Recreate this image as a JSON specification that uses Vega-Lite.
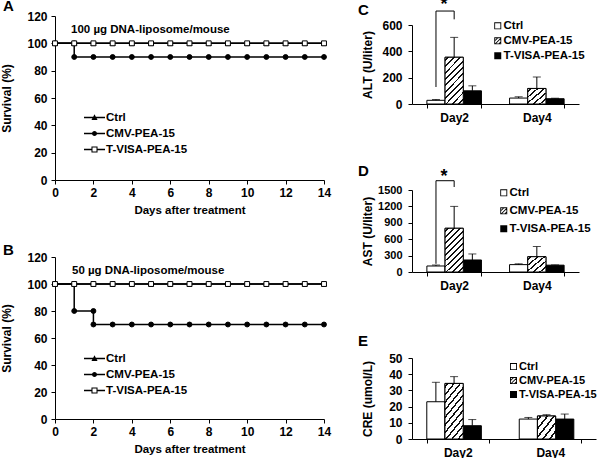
{
  "$schema": "https://vega.github.io/schema/vega-lite/v6.json",
  "padding": {"left": 0, "top": -62, "right": 0, "bottom": 0},
  "spacing": 26,
  "config": {
    "font": "Liberation Sans",
    "view": {"stroke": null},
    "axis": {"domainColor": "black", "tickColor": "black", "labelColor": "black", "titleColor": "black", "grid": false, "labelFont": "Liberation Sans", "labelFontWeight": "bold", "labelFontSize": 12, "titleFont": "Liberation Sans", "titleFontSize": 12, "titleFontWeight": "bold", "tickSize": 4, "domainWidth": 1, "tickWidth": 1},
    "legend": {"labelFont": "Liberation Sans", "labelFontSize": 11.5, "labelFontWeight": "bold", "labelColor": "black"},
    "title": {"font": "Liberation Sans", "fontSize": 15, "fontWeight": "bold", "anchor": "start", "frame": "bounds", "color": "black"}
  },
  "hconcat": [
    {
      "vconcat": [
        {"width": 269, "height": 1, "data": {"values": []}, "mark": {"type": "point", "opacity": 0}},
        {
          "title": {"text": "A", "offset": -4, "dx": 3},
          "width": 269, "height": 164,
          "data": {"values": [
            {"series": "Ctrl", "day": 0, "s": 100, "k": 0}, {"series": "Ctrl", "day": 1, "s": 100, "k": 1}, {"series": "Ctrl", "day": 2, "s": 100, "k": 2}, {"series": "Ctrl", "day": 3, "s": 100, "k": 3}, {"series": "Ctrl", "day": 4, "s": 100, "k": 4}, {"series": "Ctrl", "day": 5, "s": 100, "k": 5}, {"series": "Ctrl", "day": 6, "s": 100, "k": 6}, {"series": "Ctrl", "day": 7, "s": 100, "k": 7}, {"series": "Ctrl", "day": 8, "s": 100, "k": 8}, {"series": "Ctrl", "day": 9, "s": 100, "k": 9}, {"series": "Ctrl", "day": 10, "s": 100, "k": 10}, {"series": "Ctrl", "day": 11, "s": 100, "k": 11}, {"series": "Ctrl", "day": 12, "s": 100, "k": 12}, {"series": "Ctrl", "day": 13, "s": 100, "k": 13}, {"series": "Ctrl", "day": 14, "s": 100, "k": 14},
            {"series": "CMV-PEA-15", "day": 0, "s": 100, "k": 0}, {"series": "CMV-PEA-15", "day": 1, "s": 100, "k": 1}, {"series": "CMV-PEA-15", "day": 1, "s": 90, "k": 2}, {"series": "CMV-PEA-15", "day": 2, "s": 90, "k": 3}, {"series": "CMV-PEA-15", "day": 3, "s": 90, "k": 4}, {"series": "CMV-PEA-15", "day": 4, "s": 90, "k": 5}, {"series": "CMV-PEA-15", "day": 5, "s": 90, "k": 6}, {"series": "CMV-PEA-15", "day": 6, "s": 90, "k": 7}, {"series": "CMV-PEA-15", "day": 7, "s": 90, "k": 8}, {"series": "CMV-PEA-15", "day": 8, "s": 90, "k": 9}, {"series": "CMV-PEA-15", "day": 9, "s": 90, "k": 10}, {"series": "CMV-PEA-15", "day": 10, "s": 90, "k": 11}, {"series": "CMV-PEA-15", "day": 11, "s": 90, "k": 12}, {"series": "CMV-PEA-15", "day": 12, "s": 90, "k": 13}, {"series": "CMV-PEA-15", "day": 13, "s": 90, "k": 14}, {"series": "CMV-PEA-15", "day": 14, "s": 90, "k": 15},
            {"series": "T-VISA-PEA-15", "day": 0, "s": 100, "k": 0}, {"series": "T-VISA-PEA-15", "day": 1, "s": 100, "k": 1}, {"series": "T-VISA-PEA-15", "day": 2, "s": 100, "k": 2}, {"series": "T-VISA-PEA-15", "day": 3, "s": 100, "k": 3}, {"series": "T-VISA-PEA-15", "day": 4, "s": 100, "k": 4}, {"series": "T-VISA-PEA-15", "day": 5, "s": 100, "k": 5}, {"series": "T-VISA-PEA-15", "day": 6, "s": 100, "k": 6}, {"series": "T-VISA-PEA-15", "day": 7, "s": 100, "k": 7}, {"series": "T-VISA-PEA-15", "day": 8, "s": 100, "k": 8}, {"series": "T-VISA-PEA-15", "day": 9, "s": 100, "k": 9}, {"series": "T-VISA-PEA-15", "day": 10, "s": 100, "k": 10}, {"series": "T-VISA-PEA-15", "day": 11, "s": 100, "k": 11}, {"series": "T-VISA-PEA-15", "day": 12, "s": 100, "k": 12}, {"series": "T-VISA-PEA-15", "day": 13, "s": 100, "k": 13}, {"series": "T-VISA-PEA-15", "day": 14, "s": 100, "k": 14}
          ]},
          "encoding": {
            "x": {"field": "day", "type": "quantitative", "scale": {"domain": [0, 14], "nice": false}, "axis": {"values": [0, 2, 4, 6, 8, 10, 12, 14], "title": "Days after treatment", "titleFontSize": 11.5, "labelFlush": false, "labelPadding": 3, "titlePadding": 6}},
            "y": {"field": "s", "type": "quantitative", "scale": {"domain": [0, 120], "nice": false}, "axis": {"values": [0, 20, 40, 60, 80, 100, 120], "title": "Survival (%)", "labelPadding": 4, "titleX": -49, "titleY": 82, "titleBaseline": "middle", "titleAlign": "center"}}
          },
          "layer": [
            {"mark": {"type": "line", "color": "black", "strokeWidth": 1.5}, "encoding": {"detail": {"field": "series"}, "order": {"field": "k", "type": "quantitative"}}},
            {"mark": {"type": "point", "opacity": 1, "stroke": "black", "strokeWidth": 1, "size": 24},
             "encoding": {
               "shape": {"field": "series", "type": "nominal", "scale": {"domain": ["Ctrl", "CMV-PEA-15", "T-VISA-PEA-15"], "range": ["triangle-up", "circle", "square"]}, "legend": null},
               "fill": {"field": "series", "type": "nominal", "scale": {"domain": ["Ctrl", "CMV-PEA-15", "T-VISA-PEA-15"], "range": ["black", "black", "white"]}, "legend": null}
             }},
            {"mark": {"type": "point", "opacity": 0, "filled": true, "color": "black", "strokeWidth": 0},
             "encoding": {
               "shape": {"field": "series", "type": "nominal", "scale": {"domain": ["Ctrl", "CMV-PEA-15", "T-VISA-PEA-15"], "range": ["M-1,-0.07H1V0.07H-1ZM0,-0.3L0.29,0.24H-0.29Z", "M-1,-0.07H1V0.07H-1ZM-0.24,0A0.24,0.24 0 1,1 0.24,0A0.24,0.24 0 1,1 -0.24,0Z", "M-1,-0.07H-0.29V0.07H-1ZM0.29,-0.07H1V0.07H0.29ZM-0.29,-0.29H0.29V0.29H-0.29ZM-0.19,-0.19V0.19H0.19V-0.19Z"]},
                 "legend": {"title": null, "orient": "none", "legendX": 29, "legendY": 91, "symbolSize": 441, "symbolOpacity": 1, "symbolStrokeWidth": 0, "symbolFillColor": "black", "rowPadding": 0, "labelOffset": 1}}
             }},
            {"transform": [{"filter": "datum.series === 'Ctrl' && datum.day === 0"}],
             "mark": {"type": "text", "align": "left", "baseline": "middle", "fontSize": 11.5, "fontWeight": "bold", "color": "black", "dx": 16, "dy": -13, "text": "100 µg DNA-liposome/mouse"}}
          ],
          "resolve": {"scale": {"shape": "independent", "fill": "independent"}}
        },
        {
          "title": {"text": "B", "offset": -7, "dx": 3},
          "width": 269, "height": 162,
          "data": {"values": [
            {"series": "Ctrl", "day": 0, "s": 100, "k": 0}, {"series": "Ctrl", "day": 1, "s": 100, "k": 1}, {"series": "Ctrl", "day": 2, "s": 100, "k": 2}, {"series": "Ctrl", "day": 3, "s": 100, "k": 3}, {"series": "Ctrl", "day": 4, "s": 100, "k": 4}, {"series": "Ctrl", "day": 5, "s": 100, "k": 5}, {"series": "Ctrl", "day": 6, "s": 100, "k": 6}, {"series": "Ctrl", "day": 7, "s": 100, "k": 7}, {"series": "Ctrl", "day": 8, "s": 100, "k": 8}, {"series": "Ctrl", "day": 9, "s": 100, "k": 9}, {"series": "Ctrl", "day": 10, "s": 100, "k": 10}, {"series": "Ctrl", "day": 11, "s": 100, "k": 11}, {"series": "Ctrl", "day": 12, "s": 100, "k": 12}, {"series": "Ctrl", "day": 13, "s": 100, "k": 13}, {"series": "Ctrl", "day": 14, "s": 100, "k": 14},
            {"series": "CMV-PEA-15", "day": 0, "s": 100, "k": 0}, {"series": "CMV-PEA-15", "day": 1, "s": 100, "k": 1}, {"series": "CMV-PEA-15", "day": 1, "s": 80, "k": 2}, {"series": "CMV-PEA-15", "day": 2, "s": 80, "k": 3}, {"series": "CMV-PEA-15", "day": 2, "s": 70, "k": 4}, {"series": "CMV-PEA-15", "day": 3, "s": 70, "k": 5}, {"series": "CMV-PEA-15", "day": 4, "s": 70, "k": 6}, {"series": "CMV-PEA-15", "day": 5, "s": 70, "k": 7}, {"series": "CMV-PEA-15", "day": 6, "s": 70, "k": 8}, {"series": "CMV-PEA-15", "day": 7, "s": 70, "k": 9}, {"series": "CMV-PEA-15", "day": 8, "s": 70, "k": 10}, {"series": "CMV-PEA-15", "day": 9, "s": 70, "k": 11}, {"series": "CMV-PEA-15", "day": 10, "s": 70, "k": 12}, {"series": "CMV-PEA-15", "day": 11, "s": 70, "k": 13}, {"series": "CMV-PEA-15", "day": 12, "s": 70, "k": 14}, {"series": "CMV-PEA-15", "day": 13, "s": 70, "k": 15}, {"series": "CMV-PEA-15", "day": 14, "s": 70, "k": 16},
            {"series": "T-VISA-PEA-15", "day": 0, "s": 100, "k": 0}, {"series": "T-VISA-PEA-15", "day": 1, "s": 100, "k": 1}, {"series": "T-VISA-PEA-15", "day": 2, "s": 100, "k": 2}, {"series": "T-VISA-PEA-15", "day": 3, "s": 100, "k": 3}, {"series": "T-VISA-PEA-15", "day": 4, "s": 100, "k": 4}, {"series": "T-VISA-PEA-15", "day": 5, "s": 100, "k": 5}, {"series": "T-VISA-PEA-15", "day": 6, "s": 100, "k": 6}, {"series": "T-VISA-PEA-15", "day": 7, "s": 100, "k": 7}, {"series": "T-VISA-PEA-15", "day": 8, "s": 100, "k": 8}, {"series": "T-VISA-PEA-15", "day": 9, "s": 100, "k": 9}, {"series": "T-VISA-PEA-15", "day": 10, "s": 100, "k": 10}, {"series": "T-VISA-PEA-15", "day": 11, "s": 100, "k": 11}, {"series": "T-VISA-PEA-15", "day": 12, "s": 100, "k": 12}, {"series": "T-VISA-PEA-15", "day": 13, "s": 100, "k": 13}, {"series": "T-VISA-PEA-15", "day": 14, "s": 100, "k": 14}
          ]},
          "encoding": {
            "x": {"field": "day", "type": "quantitative", "scale": {"domain": [0, 14], "nice": false}, "axis": {"values": [0, 2, 4, 6, 8, 10, 12, 14], "title": "Days after treatment", "titleFontSize": 11.5, "labelFlush": false, "labelPadding": 3, "titlePadding": 6}},
            "y": {"field": "s", "type": "quantitative", "scale": {"domain": [0, 120], "nice": false}, "axis": {"values": [0, 20, 40, 60, 80, 100, 120], "title": "Survival (%)", "labelPadding": 4, "titleX": -49, "titleY": 81, "titleBaseline": "middle", "titleAlign": "center"}}
          },
          "layer": [
            {"mark": {"type": "line", "color": "black", "strokeWidth": 1.5}, "encoding": {"detail": {"field": "series"}, "order": {"field": "k", "type": "quantitative"}}},
            {"mark": {"type": "point", "opacity": 1, "stroke": "black", "strokeWidth": 1, "size": 24},
             "encoding": {
               "shape": {"field": "series", "type": "nominal", "scale": {"domain": ["Ctrl", "CMV-PEA-15", "T-VISA-PEA-15"], "range": ["triangle-up", "circle", "square"]}, "legend": null},
               "fill": {"field": "series", "type": "nominal", "scale": {"domain": ["Ctrl", "CMV-PEA-15", "T-VISA-PEA-15"], "range": ["black", "black", "white"]}, "legend": null}
             }},
            {"mark": {"type": "point", "opacity": 0, "filled": true, "color": "black", "strokeWidth": 0},
             "encoding": {
               "shape": {"field": "series", "type": "nominal", "scale": {"domain": ["Ctrl", "CMV-PEA-15", "T-VISA-PEA-15"], "range": ["M-1,-0.07H1V0.07H-1ZM0,-0.3L0.29,0.24H-0.29Z", "M-1,-0.07H1V0.07H-1ZM-0.24,0A0.24,0.24 0 1,1 0.24,0A0.24,0.24 0 1,1 -0.24,0Z", "M-1,-0.07H-0.29V0.07H-1ZM0.29,-0.07H1V0.07H0.29ZM-0.29,-0.29H0.29V0.29H-0.29ZM-0.19,-0.19V0.19H0.19V-0.19Z"]},
                 "legend": {"title": null, "orient": "none", "legendX": 29, "legendY": 91, "symbolSize": 441, "symbolOpacity": 1, "symbolStrokeWidth": 0, "symbolFillColor": "black", "rowPadding": 0, "labelOffset": 1}}
             }},
            {"transform": [{"filter": "datum.series === 'Ctrl' && datum.day === 0"}],
             "mark": {"type": "text", "align": "left", "baseline": "middle", "fontSize": 11.5, "fontWeight": "bold", "color": "black", "dx": 17, "dy": -13, "text": "50 µg DNA-liposome/mouse"}}
          ],
          "resolve": {"scale": {"shape": "independent", "fill": "independent"}}
        }
      ],
      "spacing": 77,
      "bounds": "flush"
    },
    {
      "vconcat": [
        {"width": 167, "height": 1, "data": {"values": []}, "mark": {"type": "point", "opacity": 0}},
        {
          "title": {"text": "C", "offset": -22, "dx": -3},
          "width": 167, "height": 79,
          "data": {"values": [
            {"day": "Day2", "group": "Ctrl", "mean": 28, "hi": 34},
            {"day": "Day2", "group": "CMV-PEA-15", "mean": 355, "hi": 506},
            {"day": "Day2", "group": "T-VISA-PEA-15", "mean": 100, "hi": 138},
            {"day": "Day4", "group": "Ctrl", "mean": 45, "hi": 55},
            {"day": "Day4", "group": "CMV-PEA-15", "mean": 118, "hi": 205},
            {"day": "Day4", "group": "T-VISA-PEA-15", "mean": 40, "hi": 44}
          ]},
          "encoding": {
            "x": {"field": "day", "type": "nominal", "scale": {"domain": ["Day2", "Day4"], "paddingInner": 0.34, "paddingOuter": 0.18}, "axis": {"title": null, "tickBand": "extent", "labelPadding": 4, "labelAngle": 0}},
            "xOffset": {"field": "group", "type": "nominal", "scale": {"domain": ["Ctrl", "CMV-PEA-15", "T-VISA-PEA-15"], "paddingInner": 0, "paddingOuter": 0}},
            "y": {"field": "mean", "type": "quantitative", "scale": {"domain": [0, 600], "nice": false}, "axis": {"values": [0, 200, 400, 600], "format": "d", "title": "ALT (U/liter)", "labelPadding": 6, "labelFontSize": 12, "titleX": -45, "titleY": 39.5, "titleBaseline": "middle", "titleAlign": "center"}}
          },
          "layer": [
            {"mark": {"type": "bar", "stroke": "black", "strokeWidth": 1},
             "encoding": {
               "fill": {"field": "group", "type": "nominal", "scale": {"domain": ["Ctrl", "CMV-PEA-15", "T-VISA-PEA-15"], "range": ["white", "white", "black"]}, "legend": null}
             }},
            {"transform": [{"filter": "datum.group === 'CMV-PEA-15' && datum.day === 'Day2'"}],
             "mark": {"type": "bar", "stroke": "black", "strokeWidth": 1, "fill": {"gradient": "linear", "x1": 0, "y1": 0, "x2": 1, "y2": 2.5, "stops": [{"offset": 0, "color": "white"}, {"offset": 0.016, "color": "white"}, {"offset": 0.016, "color": "#111"}, {"offset": 0.03, "color": "#111"}, {"offset": 0.03, "color": "white"}, {"offset": 0.063, "color": "white"}, {"offset": 0.063, "color": "#111"}, {"offset": 0.077, "color": "#111"}, {"offset": 0.077, "color": "white"}, {"offset": 0.11, "color": "white"}, {"offset": 0.11, "color": "#111"}, {"offset": 0.124, "color": "#111"}, {"offset": 0.124, "color": "white"}, {"offset": 0.157, "color": "white"}, {"offset": 0.157, "color": "#111"}, {"offset": 0.171, "color": "#111"}, {"offset": 0.171, "color": "white"}, {"offset": 0.204, "color": "white"}, {"offset": 0.204, "color": "#111"}, {"offset": 0.218, "color": "#111"}, {"offset": 0.218, "color": "white"}, {"offset": 0.251, "color": "white"}, {"offset": 0.251, "color": "#111"}, {"offset": 0.265, "color": "#111"}, {"offset": 0.265, "color": "white"}, {"offset": 0.298, "color": "white"}, {"offset": 0.298, "color": "#111"}, {"offset": 0.312, "color": "#111"}, {"offset": 0.312, "color": "white"}, {"offset": 0.345, "color": "white"}, {"offset": 0.345, "color": "#111"}, {"offset": 0.359, "color": "#111"}, {"offset": 0.359, "color": "white"}, {"offset": 0.392, "color": "white"}, {"offset": 0.392, "color": "#111"}, {"offset": 0.406, "color": "#111"}, {"offset": 0.406, "color": "white"}, {"offset": 0.439, "color": "white"}, {"offset": 0.439, "color": "#111"}, {"offset": 0.453, "color": "#111"}, {"offset": 0.453, "color": "white"}, {"offset": 0.486, "color": "white"}, {"offset": 0.486, "color": "#111"}, {"offset": 0.5, "color": "#111"}, {"offset": 0.5, "color": "white"}, {"offset": 1, "color": "white"}]}}},
            {"transform": [{"filter": "datum.group === 'CMV-PEA-15' && datum.day === 'Day4'"}],
             "mark": {"type": "bar", "stroke": "black", "strokeWidth": 1, "fill": {"gradient": "linear", "x1": 0, "y1": 0, "x2": 1, "y2": 1, "stops": [{"offset": 0, "color": "white"}, {"offset": 0.065, "color": "white"}, {"offset": 0.065, "color": "#111"}, {"offset": 0.12, "color": "#111"}, {"offset": 0.12, "color": "white"}, {"offset": 0.25, "color": "white"}, {"offset": 0.25, "color": "#111"}, {"offset": 0.305, "color": "#111"}, {"offset": 0.305, "color": "white"}, {"offset": 0.435, "color": "white"}, {"offset": 0.435, "color": "#111"}, {"offset": 0.49, "color": "#111"}, {"offset": 0.49, "color": "white"}, {"offset": 0.62, "color": "white"}, {"offset": 0.62, "color": "#111"}, {"offset": 0.675, "color": "#111"}, {"offset": 0.675, "color": "white"}, {"offset": 0.805, "color": "white"}, {"offset": 0.805, "color": "#111"}, {"offset": 0.86, "color": "#111"}, {"offset": 0.86, "color": "white"}, {"offset": 1, "color": "white"}]}}},
            {"mark": {"type": "rule", "color": "black", "strokeWidth": 1},
             "encoding": {"y2": {"field": "hi"}}},
            {"mark": {"type": "tick", "color": "black", "thickness": 1, "size": 8, "orient": "horizontal"},
             "encoding": {"y": {"field": "hi", "type": "quantitative", "axis": {"values": [0, 200, 400, 600], "format": "d", "title": "ALT (U/liter)", "labelPadding": 6, "labelFontSize": 12, "titleX": -45, "titleY": 39.5, "titleBaseline": "middle", "titleAlign": "center"}}}},
            {"data": {"values": [{"day": "Day2", "group": "Ctrl", "hi": 129, "k": 1}, {"day": "Day2", "group": "Ctrl", "hi": 706, "k": 2}, {"day": "Day2", "group": "CMV-PEA-15", "hi": 706, "k": 3}, {"day": "Day2", "group": "CMV-PEA-15", "hi": 643, "k": 4}]},
             "mark": {"type": "line", "color": "black", "strokeWidth": 1},
             "encoding": {"y": {"field": "hi", "type": "quantitative", "axis": {"values": [0, 200, 400, 600], "format": "d", "title": "ALT (U/liter)", "labelPadding": 6, "labelFontSize": 12, "titleX": -45, "titleY": 39.5, "titleBaseline": "middle", "titleAlign": "center"}}, "order": {"field": "k", "type": "quantitative"}}},
            {"data": {"values": [{"day": "Day2", "group": "Ctrl", "hi": 712, "label": "*"}]},
             "mark": {"type": "text", "fontSize": 18, "fontWeight": "bold", "color": "black", "baseline": "alphabetic", "dx": 8},
             "encoding": {"y": {"field": "hi", "type": "quantitative", "axis": {"values": [0, 200, 400, 600], "format": "d", "title": "ALT (U/liter)", "labelPadding": 6, "labelFontSize": 12, "titleX": -45, "titleY": 39.5, "titleBaseline": "middle", "titleAlign": "center"}}, "text": {"field": "label"}}},
            {"mark": {"type": "point", "opacity": 0, "filled": true, "color": "black", "strokeWidth": 0},
             "encoding": {
               "shape": {"field": "group", "type": "nominal", "scale": {"domain": ["Ctrl", "CMV-PEA-15", "T-VISA-PEA-15"], "range": ["M-1,-1H1V1H-1ZM-0.75,-0.75V0.75H0.75V-0.75Z", "M-1,-1H1V1H-1ZM-0.75,-0.75V0.75H0.75V-0.75ZM-1,0L0,-1L0.35,-1L-0.65,0ZM-1,1L1,-1L1,-0.65L-0.65,1ZM0,1L1,0L1,0.35L0.35,1Z", "M-1,-1H1V1H-1Z"]},
                 "legend": {"title": null, "orient": "none", "legendX": 80, "legendY": -5, "symbolSize": 49, "symbolOpacity": 1, "symbolStrokeWidth": 0, "symbolFillColor": "black", "rowPadding": 2, "labelOffset": 0, "labelFontSize": 11.5}}
             }}
          ],
          "resolve": {"scale": {"shape": "independent", "fill": "independent"}}
        },
        {
          "title": {"text": "D", "offset": -11, "dx": -3},
          "width": 167, "height": 82,
          "data": {"values": [
            {"day": "Day2", "group": "Ctrl", "mean": 110, "hi": 128},
            {"day": "Day2", "group": "CMV-PEA-15", "mean": 800, "hi": 1200},
            {"day": "Day2", "group": "T-VISA-PEA-15", "mean": 220, "hi": 330},
            {"day": "Day4", "group": "Ctrl", "mean": 135, "hi": 150},
            {"day": "Day4", "group": "CMV-PEA-15", "mean": 280, "hi": 465},
            {"day": "Day4", "group": "T-VISA-PEA-15", "mean": 125, "hi": 130}
          ]},
          "encoding": {
            "x": {"field": "day", "type": "nominal", "scale": {"domain": ["Day2", "Day4"], "paddingInner": 0.34, "paddingOuter": 0.18}, "axis": {"title": null, "tickBand": "extent", "labelPadding": 4, "labelAngle": 0}},
            "xOffset": {"field": "group", "type": "nominal", "scale": {"domain": ["Ctrl", "CMV-PEA-15", "T-VISA-PEA-15"], "paddingInner": 0, "paddingOuter": 0}},
            "y": {"field": "mean", "type": "quantitative", "scale": {"domain": [0, 1500], "nice": false}, "axis": {"values": [0, 300, 600, 900, 1200, 1500], "format": "d", "title": "AST (U/liter)", "labelPadding": 6, "labelFontSize": 11, "titleX": -45, "titleY": 41, "titleBaseline": "middle", "titleAlign": "center"}}
          },
          "layer": [
            {"mark": {"type": "bar", "stroke": "black", "strokeWidth": 1},
             "encoding": {
               "fill": {"field": "group", "type": "nominal", "scale": {"domain": ["Ctrl", "CMV-PEA-15", "T-VISA-PEA-15"], "range": ["white", "white", "black"]}, "legend": null}
             }},
            {"transform": [{"filter": "datum.group === 'CMV-PEA-15' && datum.day === 'Day2'"}],
             "mark": {"type": "bar", "stroke": "black", "strokeWidth": 1, "fill": {"gradient": "linear", "x1": 0, "y1": 0, "x2": 1, "y2": 2.5, "stops": [{"offset": 0, "color": "white"}, {"offset": 0.016, "color": "white"}, {"offset": 0.016, "color": "#111"}, {"offset": 0.03, "color": "#111"}, {"offset": 0.03, "color": "white"}, {"offset": 0.063, "color": "white"}, {"offset": 0.063, "color": "#111"}, {"offset": 0.077, "color": "#111"}, {"offset": 0.077, "color": "white"}, {"offset": 0.11, "color": "white"}, {"offset": 0.11, "color": "#111"}, {"offset": 0.124, "color": "#111"}, {"offset": 0.124, "color": "white"}, {"offset": 0.157, "color": "white"}, {"offset": 0.157, "color": "#111"}, {"offset": 0.171, "color": "#111"}, {"offset": 0.171, "color": "white"}, {"offset": 0.204, "color": "white"}, {"offset": 0.204, "color": "#111"}, {"offset": 0.218, "color": "#111"}, {"offset": 0.218, "color": "white"}, {"offset": 0.251, "color": "white"}, {"offset": 0.251, "color": "#111"}, {"offset": 0.265, "color": "#111"}, {"offset": 0.265, "color": "white"}, {"offset": 0.298, "color": "white"}, {"offset": 0.298, "color": "#111"}, {"offset": 0.312, "color": "#111"}, {"offset": 0.312, "color": "white"}, {"offset": 0.345, "color": "white"}, {"offset": 0.345, "color": "#111"}, {"offset": 0.359, "color": "#111"}, {"offset": 0.359, "color": "white"}, {"offset": 0.392, "color": "white"}, {"offset": 0.392, "color": "#111"}, {"offset": 0.406, "color": "#111"}, {"offset": 0.406, "color": "white"}, {"offset": 0.439, "color": "white"}, {"offset": 0.439, "color": "#111"}, {"offset": 0.453, "color": "#111"}, {"offset": 0.453, "color": "white"}, {"offset": 0.486, "color": "white"}, {"offset": 0.486, "color": "#111"}, {"offset": 0.5, "color": "#111"}, {"offset": 0.5, "color": "white"}, {"offset": 1, "color": "white"}]}}},
            {"transform": [{"filter": "datum.group === 'CMV-PEA-15' && datum.day === 'Day4'"}],
             "mark": {"type": "bar", "stroke": "black", "strokeWidth": 1, "fill": {"gradient": "linear", "x1": 0, "y1": 0, "x2": 1, "y2": 1, "stops": [{"offset": 0, "color": "white"}, {"offset": 0.065, "color": "white"}, {"offset": 0.065, "color": "#111"}, {"offset": 0.12, "color": "#111"}, {"offset": 0.12, "color": "white"}, {"offset": 0.25, "color": "white"}, {"offset": 0.25, "color": "#111"}, {"offset": 0.305, "color": "#111"}, {"offset": 0.305, "color": "white"}, {"offset": 0.435, "color": "white"}, {"offset": 0.435, "color": "#111"}, {"offset": 0.49, "color": "#111"}, {"offset": 0.49, "color": "white"}, {"offset": 0.62, "color": "white"}, {"offset": 0.62, "color": "#111"}, {"offset": 0.675, "color": "#111"}, {"offset": 0.675, "color": "white"}, {"offset": 0.805, "color": "white"}, {"offset": 0.805, "color": "#111"}, {"offset": 0.86, "color": "#111"}, {"offset": 0.86, "color": "white"}, {"offset": 1, "color": "white"}]}}},
            {"mark": {"type": "rule", "color": "black", "strokeWidth": 1},
             "encoding": {"y2": {"field": "hi"}}},
            {"mark": {"type": "tick", "color": "black", "thickness": 1, "size": 8, "orient": "horizontal"},
             "encoding": {"y": {"field": "hi", "type": "quantitative", "axis": {"values": [0, 300, 600, 900, 1200, 1500], "format": "d", "title": "AST (U/liter)", "labelPadding": 6, "labelFontSize": 11, "titleX": -45, "titleY": 41, "titleBaseline": "middle", "titleAlign": "center"}}}},
            {"data": {"values": [{"day": "Day2", "group": "Ctrl", "hi": 150, "k": 1}, {"day": "Day2", "group": "Ctrl", "hi": 1670, "k": 2}, {"day": "Day2", "group": "CMV-PEA-15", "hi": 1670, "k": 3}, {"day": "Day2", "group": "CMV-PEA-15", "hi": 1555, "k": 4}]},
             "mark": {"type": "line", "color": "black", "strokeWidth": 1},
             "encoding": {"y": {"field": "hi", "type": "quantitative", "axis": {"values": [0, 300, 600, 900, 1200, 1500], "format": "d", "title": "AST (U/liter)", "labelPadding": 6, "labelFontSize": 11, "titleX": -45, "titleY": 41, "titleBaseline": "middle", "titleAlign": "center"}}, "order": {"field": "k", "type": "quantitative"}}},
            {"data": {"values": [{"day": "Day2", "group": "Ctrl", "hi": 1650, "label": "*"}]},
             "mark": {"type": "text", "fontSize": 18, "fontWeight": "bold", "color": "black", "baseline": "alphabetic", "dx": 8},
             "encoding": {"y": {"field": "hi", "type": "quantitative", "axis": {"values": [0, 300, 600, 900, 1200, 1500], "format": "d", "title": "AST (U/liter)", "labelPadding": 6, "labelFontSize": 11, "titleX": -45, "titleY": 41, "titleBaseline": "middle", "titleAlign": "center"}}, "text": {"field": "label"}}},
            {"mark": {"type": "point", "opacity": 0, "filled": true, "color": "black", "strokeWidth": 0},
             "encoding": {
               "shape": {"field": "group", "type": "nominal", "scale": {"domain": ["Ctrl", "CMV-PEA-15", "T-VISA-PEA-15"], "range": ["M-1,-1H1V1H-1ZM-0.75,-0.75V0.75H0.75V-0.75Z", "M-1,-1H1V1H-1ZM-0.75,-0.75V0.75H0.75V-0.75ZM-1,0L0,-1L0.35,-1L-0.65,0ZM-1,1L1,-1L1,-0.65L-0.65,1ZM0,1L1,0L1,0.35L0.35,1Z", "M-1,-1H1V1H-1Z"]},
                 "legend": {"title": null, "orient": "none", "legendX": 86, "legendY": -3, "symbolSize": 49, "symbolOpacity": 1, "symbolStrokeWidth": 0, "symbolFillColor": "black", "rowPadding": 5, "labelOffset": 0, "labelFontSize": 11.5}}
             }}
          ],
          "resolve": {"scale": {"shape": "independent", "fill": "independent"}}
        },
        {
          "title": {"text": "E", "offset": 3, "dx": -3},
          "width": 184, "height": 81,
          "data": {"values": [
            {"day": "Day2", "group": "Ctrl", "mean": 23, "hi": 35},
            {"day": "Day2", "group": "CMV-PEA-15", "mean": 34.3, "hi": 38.5},
            {"day": "Day2", "group": "T-VISA-PEA-15", "mean": 8.2, "hi": 12},
            {"day": "Day4", "group": "Ctrl", "mean": 12.3, "hi": 13.3},
            {"day": "Day4", "group": "CMV-PEA-15", "mean": 14.2, "hi": 15},
            {"day": "Day4", "group": "T-VISA-PEA-15", "mean": 12.3, "hi": 15.4}
          ]},
          "encoding": {
            "x": {"field": "day", "type": "nominal", "scale": {"domain": ["Day2", "Day4"], "paddingInner": 0.33, "paddingOuter": 0.16}, "axis": {"title": null, "tickBand": "extent", "labelPadding": 4, "labelAngle": 0}},
            "xOffset": {"field": "group", "type": "nominal", "scale": {"domain": ["Ctrl", "CMV-PEA-15", "T-VISA-PEA-15"], "paddingInner": 0, "paddingOuter": 0}},
            "y": {"field": "mean", "type": "quantitative", "scale": {"domain": [0, 50], "nice": false}, "axis": {"values": [0, 10, 20, 30, 40, 50], "format": "d", "title": "CRE (umol/L)", "labelPadding": 6, "labelFontSize": 12, "titleX": -45, "titleY": 40.5, "titleBaseline": "middle", "titleAlign": "center"}}
          },
          "layer": [
            {"mark": {"type": "bar", "stroke": "black", "strokeWidth": 1},
             "encoding": {
               "fill": {"field": "group", "type": "nominal", "scale": {"domain": ["Ctrl", "CMV-PEA-15", "T-VISA-PEA-15"], "range": ["white", "white", "black"]}, "legend": null}
             }},
            {"transform": [{"filter": "datum.group === 'CMV-PEA-15' && datum.day === 'Day2'"}],
             "mark": {"type": "bar", "stroke": "black", "strokeWidth": 1, "fill": {"gradient": "linear", "x1": 0, "y1": 0, "x2": 1, "y2": 2.5, "stops": [{"offset": 0, "color": "white"}, {"offset": 0.016, "color": "white"}, {"offset": 0.016, "color": "#111"}, {"offset": 0.03, "color": "#111"}, {"offset": 0.03, "color": "white"}, {"offset": 0.063, "color": "white"}, {"offset": 0.063, "color": "#111"}, {"offset": 0.077, "color": "#111"}, {"offset": 0.077, "color": "white"}, {"offset": 0.11, "color": "white"}, {"offset": 0.11, "color": "#111"}, {"offset": 0.124, "color": "#111"}, {"offset": 0.124, "color": "white"}, {"offset": 0.157, "color": "white"}, {"offset": 0.157, "color": "#111"}, {"offset": 0.171, "color": "#111"}, {"offset": 0.171, "color": "white"}, {"offset": 0.204, "color": "white"}, {"offset": 0.204, "color": "#111"}, {"offset": 0.218, "color": "#111"}, {"offset": 0.218, "color": "white"}, {"offset": 0.251, "color": "white"}, {"offset": 0.251, "color": "#111"}, {"offset": 0.265, "color": "#111"}, {"offset": 0.265, "color": "white"}, {"offset": 0.298, "color": "white"}, {"offset": 0.298, "color": "#111"}, {"offset": 0.312, "color": "#111"}, {"offset": 0.312, "color": "white"}, {"offset": 0.345, "color": "white"}, {"offset": 0.345, "color": "#111"}, {"offset": 0.359, "color": "#111"}, {"offset": 0.359, "color": "white"}, {"offset": 0.392, "color": "white"}, {"offset": 0.392, "color": "#111"}, {"offset": 0.406, "color": "#111"}, {"offset": 0.406, "color": "white"}, {"offset": 0.439, "color": "white"}, {"offset": 0.439, "color": "#111"}, {"offset": 0.453, "color": "#111"}, {"offset": 0.453, "color": "white"}, {"offset": 0.486, "color": "white"}, {"offset": 0.486, "color": "#111"}, {"offset": 0.5, "color": "#111"}, {"offset": 0.5, "color": "white"}, {"offset": 1, "color": "white"}]}}},
            {"transform": [{"filter": "datum.group === 'CMV-PEA-15' && datum.day === 'Day4'"}],
             "mark": {"type": "bar", "stroke": "black", "strokeWidth": 1, "fill": {"gradient": "linear", "x1": 0, "y1": 0, "x2": 1, "y2": 1, "stops": [{"offset": 0, "color": "white"}, {"offset": 0.065, "color": "white"}, {"offset": 0.065, "color": "#111"}, {"offset": 0.12, "color": "#111"}, {"offset": 0.12, "color": "white"}, {"offset": 0.25, "color": "white"}, {"offset": 0.25, "color": "#111"}, {"offset": 0.305, "color": "#111"}, {"offset": 0.305, "color": "white"}, {"offset": 0.435, "color": "white"}, {"offset": 0.435, "color": "#111"}, {"offset": 0.49, "color": "#111"}, {"offset": 0.49, "color": "white"}, {"offset": 0.62, "color": "white"}, {"offset": 0.62, "color": "#111"}, {"offset": 0.675, "color": "#111"}, {"offset": 0.675, "color": "white"}, {"offset": 0.805, "color": "white"}, {"offset": 0.805, "color": "#111"}, {"offset": 0.86, "color": "#111"}, {"offset": 0.86, "color": "white"}, {"offset": 1, "color": "white"}]}}},
            {"mark": {"type": "rule", "color": "black", "strokeWidth": 1},
             "encoding": {"y2": {"field": "hi"}}},
            {"mark": {"type": "tick", "color": "black", "thickness": 1, "size": 8, "orient": "horizontal"},
             "encoding": {"y": {"field": "hi", "type": "quantitative", "axis": {"values": [0, 10, 20, 30, 40, 50], "format": "d", "title": "CRE (umol/L)", "labelPadding": 6, "labelFontSize": 12, "titleX": -45, "titleY": 40.5, "titleBaseline": "middle", "titleAlign": "center"}}}},
            {"mark": {"type": "point", "opacity": 0, "filled": true, "color": "black", "strokeWidth": 0},
             "encoding": {
               "shape": {"field": "group", "type": "nominal", "scale": {"domain": ["Ctrl", "CMV-PEA-15", "T-VISA-PEA-15"], "range": ["M-1,-1H1V1H-1ZM-0.75,-0.75V0.75H0.75V-0.75Z", "M-1,-1H1V1H-1ZM-0.75,-0.75V0.75H0.75V-0.75ZM-1,0L0,-1L0.35,-1L-0.65,0ZM-1,1L1,-1L1,-0.65L-0.65,1ZM0,1L1,0L1,0.35L0.35,1Z", "M-1,-1H1V1H-1Z"]},
                 "legend": {"title": null, "orient": "none", "legendX": 96, "legendY": 3, "symbolSize": 49, "symbolOpacity": 1, "symbolStrokeWidth": 0, "symbolFillColor": "black", "rowPadding": 2, "labelOffset": 0, "labelFontSize": 11}}
             }}
          ],
          "resolve": {"scale": {"shape": "independent", "fill": "independent"}}
        }
      ],
      "spacing": 86,
      "bounds": "flush"
    }
  ]
}
